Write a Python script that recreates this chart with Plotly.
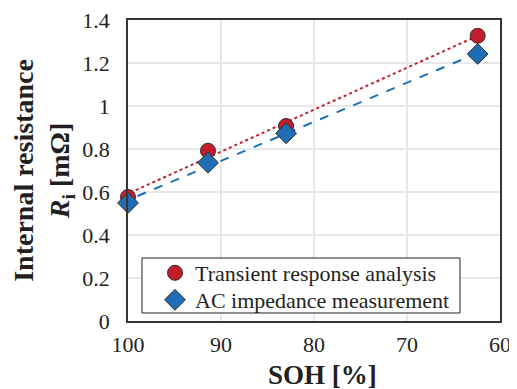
import numpy as np
import plotly.graph_objects as go

soh = [100, 91.4, 83.0, 62.4]
r_transient = [0.577, 0.792, 0.907, 1.327]
r_ac = [0.549, 0.736, 0.873, 1.242]
x_ticks = [100, 90, 80, 70, 60]
y_ticks = [0, 0.2, 0.4, 0.6, 0.8, 1, 1.2, 1.4]
y_tick_labels = ["0", "0.2", "0.4", "0.6", "0.8", "1", "1.2", "1.4"]

font_family = "Liberation Serif, Times New Roman, serif"
ink = "#231f20"

fig = go.Figure()

# linear trendlines (least squares)
for ys, color, dash in [(r_transient, "#c0202a", "dot"), (r_ac, "#1f6fb5", "dash")]:
    k, b = np.polyfit(soh, ys, 1)
    xs = [min(soh), max(soh)]
    fig.add_trace(go.Scatter(x=xs, y=[k * v + b for v in xs], mode="lines",
                             line=dict(color=color, width=2, dash=dash),
                             showlegend=False, hoverinfo="skip"))

fig.add_trace(go.Scatter(x=soh, y=r_transient, mode="markers", name="Transient response analysis",
                         legend="legend", cliponaxis=False,
                         marker=dict(symbol="circle", size=15, color="#bf1e2a",
                                     line=dict(color="#3a2a2a", width=1))))
fig.add_trace(go.Scatter(x=soh, y=r_ac, mode="markers", name="AC impedance measurement",
                         legend="legend2", cliponaxis=False,
                         marker=dict(symbol="diamond", size=16, color="#1f6db4",
                                     line=dict(color="#2a2a2a", width=1))))

# legend frame
fig.add_shape(type="rect", xref="paper", yref="paper",
              x0=0.0376, x1=0.8925, y0=0.0266, y1=0.2093,
              line=dict(color=ink, width=1), fillcolor="white", layer="above")

fig.add_annotation(text="<b>SOH [%]</b>", xref="paper", yref="paper",
                   x=0.522, y=-0.179, xanchor="center", yanchor="middle",
                   showarrow=False, font=dict(size=27, family=font_family, color=ink))

leg_common = dict(xanchor="left", yanchor="middle", bgcolor="rgba(0,0,0,0)",
                  borderwidth=0, font=dict(size=22, family=font_family, color=ink),
                  itemwidth=30)

# page body has an 8px margin: compensate so the plot lands where the reference has it
fig.update_layout(
    width=509, height=381,
    margin=dict(l=120, r=17, t=12, b=68),
    paper_bgcolor="white", plot_bgcolor="white",
    font=dict(family=font_family, size=22, color=ink),
    legend=dict(x=0.0726, y=0.1595, **leg_common),
    legend2=dict(x=0.0726, y=0.0698, **leg_common),
    xaxis=dict(range=[100, 60], tickvals=x_ticks, ticks="", showgrid=True,
               gridcolor="#e8e8e8", gridwidth=2, zeroline=False, automargin=False,
               showline=True, linecolor="#3a3334", linewidth=1.5, mirror=True,
               tickfont=dict(size=22), ticklabelstandoff=3, ticklabeloverflow="allow"),
    yaxis=dict(range=[0, 1.4], tickvals=y_ticks, ticktext=y_tick_labels, ticks="",
               showgrid=True, gridcolor="#e8e8e8", gridwidth=2, zeroline=False, automargin=False,
               showline=True, linecolor="#3a3334", linewidth=1.5, mirror=True,
               tickfont=dict(size=22), ticklabelstandoff=12, ticklabeloverflow="allow",
               title=dict(text="<b>Internal resistance<br><i>R</i><sub>i</sub> [mΩ]</b>",
                          font=dict(size=28), standoff=6)),
)

fig.write_html("out.html")
